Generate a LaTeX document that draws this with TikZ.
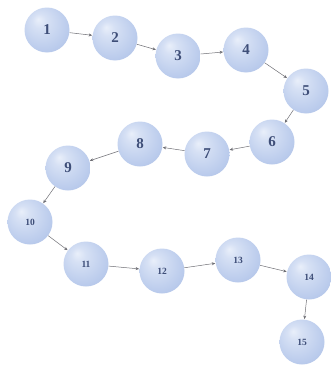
\documentclass[tikz,border=0pt]{standalone}
\usepackage{fontspec}
\setmainfont{Liberation Serif}
\usetikzlibrary{arrows.meta}
\definecolor{hl}{HTML}{E9EFFA}
\definecolor{mid}{HTML}{BACBEC}
\definecolor{edge}{HTML}{9AAED8}
\definecolor{numc}{HTML}{3E4E78}
\definecolor{arr}{HTML}{6E6E74}
\pgfdeclareradialshading{myball}{\pgfqpoint{-10bp}{12bp}}{color(0bp)=(hl); color(8bp)=(hl!60!mid); color(28bp)=(mid); color(50bp)=(edge)}
\tikzset{
  ballnode/.style={circle, minimum size=45pt, inner sep=0pt, shading=myball, text=numc, font=\bfseries\fontsize{15}{15}\selectfont},
  smallball/.style={ballnode, font=\bfseries\fontsize{9.5}{10}\selectfont},
  link/.style={draw=arr, line width=0.5pt, -{Stealth[length=3.5pt,width=3pt]}, shorten >=0.3pt}
}
\begin{document}
\begin{tikzpicture}[x=1pt,y=-1pt]
\useasboundingbox (0,0) rectangle (330,367);
\node[ballnode] (n1) at (47,30) {1};
\node[ballnode] (n2) at (115,38) {2};
\node[ballnode] (n3) at (178,56) {3};
\node[ballnode] (n4) at (246,50) {4};
\node[ballnode] (n5) at (306,91) {5};
\node[ballnode] (n6) at (272,142) {6};
\node[ballnode] (n7) at (207,154) {7};
\node[ballnode] (n8) at (140,144) {8};
\node[ballnode] (n9) at (68,168) {9};
\node[smallball] (n10) at (30,222) {10};
\node[smallball] (n11) at (86,264) {11};
\node[smallball] (n12) at (162,271) {12};
\node[smallball] (n13) at (238,260) {13};
\node[smallball] (n14) at (309,277) {14};
\node[smallball] (n15) at (302,342) {15};
\foreach \a/\b in {1/2,2/3,3/4,4/5,5/6,6/7,7/8,8/9,9/10,10/11,11/12,12/13,13/14,14/15}
  \draw[link] (n\a) -- (n\b);
\end{tikzpicture}
\end{document}
